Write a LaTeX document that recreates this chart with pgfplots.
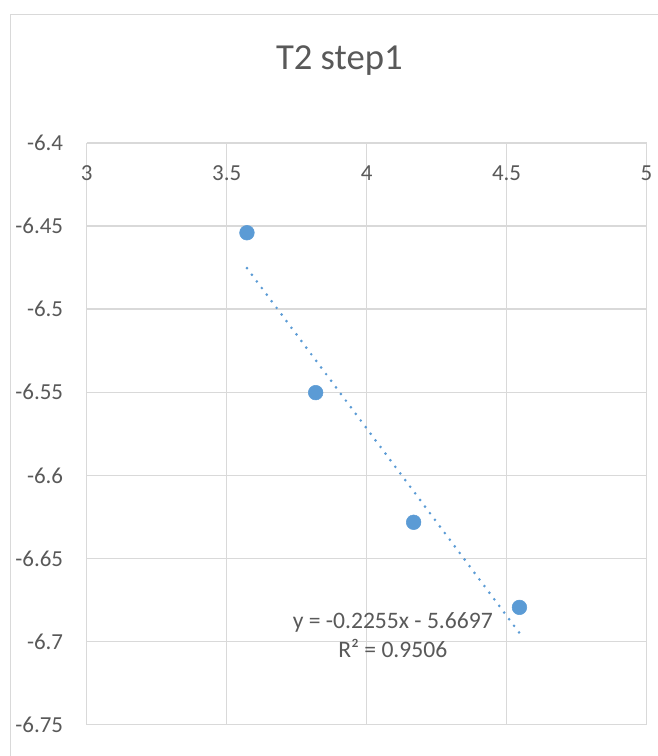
\documentclass[border=0pt]{standalone}
\usepackage{pgfplots}
\pgfplotsset{compat=1.18}
\usepackage{fontspec}
\setmainfont{Carlito}
\definecolor{excelblue}{HTML}{5B9BD5}
\definecolor{gridgray}{HTML}{D9D9D9}
\definecolor{textgray}{HTML}{595959}
\begin{document}
\begin{tikzpicture}
\useasboundingbox (0,0) rectangle (492.75pt,-567pt);
\draw[gridgray, line width=0.8pt] (7.9pt,-11pt) rectangle (530pt,-610pt);
\node[anchor=base, text=textgray, font=\fontsize{27.5}{32}\selectfont] at (254.5pt,-52.5pt) {T2 step1};
\begin{axis}[
  at={(65.03pt,-543.53pt)}, anchor=south west,
  scale only axis, width=419.85pt, height=436.28pt,
  xmin=3, xmax=5, ymin=-6.75, ymax=-6.4,
  axis line style={draw=none},
  grid=major, major grid style={gridgray, line width=1.1pt},
  tick style={draw=none},
  xtick={3,3.5,4,4.5,5},
  xticklabels={3,3.5,4,4.5,5},
  ytick={-6.75,-6.7,-6.65,-6.6,-6.55,-6.5,-6.45,-6.4},
  yticklabels={-6.75,-6.7,-6.65,-6.6,-6.55,-6.5,-6.45,-6.4},
  xticklabel pos=upper,
  xticklabel style={anchor=base, inner sep=0pt, yshift=-28.3pt, text=textgray, font=\fontsize{17.2}{20}\selectfont},
  yticklabel style={anchor=east, inner sep=0pt, xshift=-17.5pt, text=textgray, font=\fontsize{17.2}{20}\selectfont},
  clip=false,
]
\addplot[excelblue, line width=2.2pt, line cap=round, dash pattern=on 0pt off 6.2pt] coordinates {(3.5725,-6.4753) (4.546,-6.6948)};
\addplot[only marks, mark=*, mark size=5.5pt, mark options={fill=excelblue, draw=excelblue}] coordinates {
(3.5725,-6.4540) (3.818,-6.5502) (4.168,-6.6282) (4.546,-6.6794)};
\end{axis}
\node[anchor=base, text=textgray, font=\fontsize{17.7}{20}\selectfont] at (294.6pt,-471.2pt) {y = -0.2255x - 5.6697};
\node[anchor=base, text=textgray, font=\fontsize{17.7}{20}\selectfont] at (294.6pt,-493pt) {R² = 0.9506};
\end{tikzpicture}
\end{document}
